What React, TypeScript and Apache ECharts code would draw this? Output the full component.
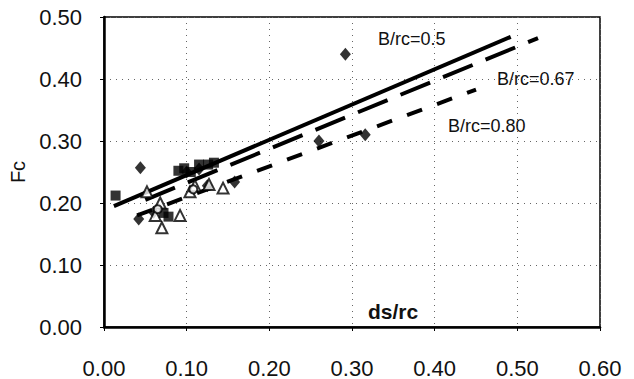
import React, { useEffect, useRef } from "react";
import * as echarts from "echarts";

const xTicks = ["0.00", "0.10", "0.20", "0.30", "0.40", "0.50", "0.60"];
const yTicks = ["0.00", "0.10", "0.20", "0.30", "0.40", "0.50"];

const diamonds: [number, number][] = [
  [0.292, 0.44],
  [0.044, 0.257],
  [0.042, 0.174],
  [0.26, 0.3],
  [0.316, 0.31],
  [0.158, 0.234],
  [0.1, 0.25],
  [0.115, 0.255],
  [0.125, 0.228],
  [0.06, 0.185],
];

const squares: [number, number][] = [
  [0.014, 0.212],
  [0.09, 0.252],
  [0.097, 0.256],
  [0.105, 0.25],
  [0.115, 0.262],
  [0.126, 0.262],
  [0.133, 0.265],
  [0.072, 0.184],
  [0.078, 0.178],
];

const triangles: [number, number][] = [
  [0.052, 0.218],
  [0.068, 0.2],
  [0.062, 0.18],
  [0.07, 0.16],
  [0.092, 0.18],
  [0.104, 0.218],
  [0.11, 0.228],
  [0.127, 0.23],
  [0.144, 0.224],
];

const circles: [number, number][] = [
  [0.065, 0.19],
  [0.108, 0.222],
];

const line050: [number, number][] = [
  [0.012, 0.195],
  [0.492, 0.468],
];
const line067: [number, number][] = [
  [0.05, 0.205],
  [0.525, 0.466],
];
const line080: [number, number][] = [
  [0.04, 0.18],
  [0.45, 0.383],
];

const labels = [
  { text: "B/rc=0.5", x: 378, y: 40 },
  { text: "B/rc=0.67", x: 497, y: 80 },
  { text: "B/rc=0.80", x: 448, y: 127 },
];

const FONT = "Liberation Sans, Arial, sans-serif";

export default function App() {
  const ref = useRef<HTMLDivElement>(null);
  useEffect(() => {
    if (!ref.current) return;
    const chart = echarts.init(ref.current, null, { renderer: "svg" });
    const lineSeries = (data: [number, number][], type: any) => ({
      type: "line",
      data,
      symbol: "none",
      lineStyle: { color: "#000", width: 4, type, cap: "butt" },
      z: 3,
    });
    chart.setOption({
      animation: false,
      backgroundColor: "#fff",
      grid: {
        left: 100,
        right: 34,
        top: 17,
        bottom: 34,
        show: true,
        borderColor: "#000",
        borderWidth: 1.5,
        backgroundColor: "transparent",
      },
      xAxis: {
        type: "value",
        min: 0,
        max: 0.6,
        interval: 0.1,
        axisLine: { show: true, onZero: false, lineStyle: { color: "#000", width: 2.5 } },
        axisTick: { show: true, length: 4, lineStyle: { color: "#000" } },
        axisLabel: {
          margin: 30,
          fontSize: 22,
          fontFamily: FONT,
          color: "#111",
          formatter: (v: number) => xTicks[Math.round(v * 10)],
        },
        splitLine: { show: true, lineStyle: { color: "#666", width: 1, type: [1, 5] } },
      },
      yAxis: {
        type: "value",
        min: 0,
        max: 0.5,
        interval: 0.1,
        name: "Fc",
        nameLocation: "middle",
        nameGap: 76,
        nameRotate: 90,
        nameTextStyle: { fontSize: 20, fontFamily: FONT, color: "#111" },
        axisLine: { show: true, onZero: false, lineStyle: { color: "#000", width: 2.5 } },
        axisTick: { show: true, length: 4, lineStyle: { color: "#000" } },
        axisLabel: {
          margin: 22,
          fontSize: 22,
          fontFamily: FONT,
          color: "#111",
          formatter: (v: number) => yTicks[Math.round(v * 10)],
        },
        splitLine: { show: true, lineStyle: { color: "#666", width: 1, type: [1, 5] } },
      },
      graphic: [
        ...labels.map((l) => ({
          type: "text",
          left: l.x,
          top: l.y - 10,
          style: { text: l.text, fontSize: 18, fontFamily: FONT, fill: "#111" },
          z: 10,
        })),
        {
          type: "text",
          left: 368,
          top: 301,
          style: { text: "ds/rc", fontSize: 21, fontWeight: "bold", fontFamily: FONT, fill: "#111" },
          z: 10,
        },
      ],
      series: [
        lineSeries(line050, "solid"),
        lineSeries(line067, [32, 14]),
        lineSeries(line080, [16, 16]),
        {
          type: "scatter",
          data: diamonds,
          symbol: "diamond",
          symbolSize: [11, 13],
          itemStyle: { color: "#000" },
          z: 4,
        },
        {
          type: "scatter",
          data: squares,
          symbol: "rect",
          symbolSize: 10,
          itemStyle: { color: "#000" },
          z: 4,
        },
        {
          type: "scatter",
          data: triangles,
          symbol: "triangle",
          symbolSize: 11,
          itemStyle: { color: "#fff", borderColor: "#000", borderWidth: 2 },
          z: 5,
        },
        {
          type: "scatter",
          data: circles,
          symbol: "circle",
          symbolSize: 8,
          itemStyle: { color: "#fff", borderColor: "#000", borderWidth: 2 },
          z: 5,
        },
      ],
    });
    return () => chart.dispose();
  }, []);
  return <div ref={ref} style={{ width: 634, height: 379, position: "absolute", left: 0, top: 0 }} />;
}
